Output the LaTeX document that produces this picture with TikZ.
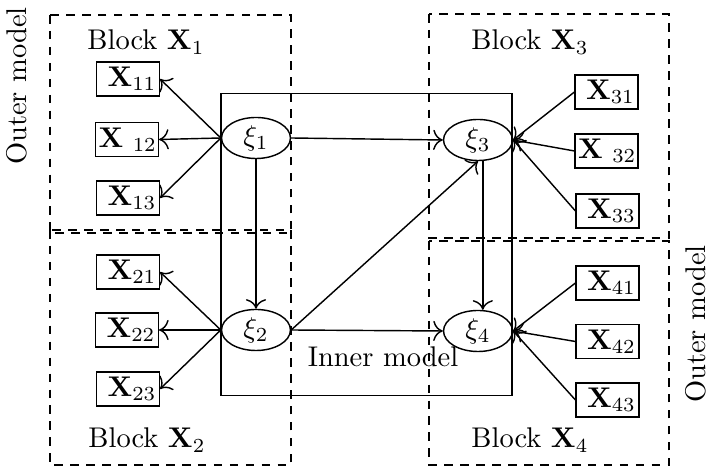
\documentclass[tikz,border=0pt]{standalone}
\usetikzlibrary{shapes.geometric,arrows.meta}
\begin{document}
\begin{tikzpicture}[x=0.351pt,y=-0.351pt,line width=0.5pt,
  lat/.style={draw,ellipse,minimum width=24.2pt,minimum height=14.4pt,inner sep=0pt},
  ind/.style={draw,rectangle,text width=20pt,align=right,minimum height=11.9pt,inner sep=1pt},
  blk/.style={draw,dash pattern=on 3pt off 2.6pt},
  arr/.style={-{To[scale=1.25]}}]
\useasboundingbox (0,0) rectangle (708,466);
% blocks
\draw[blk] (50,15) rectangle (291,233);
\draw[blk] (50,230) rectangle (291,465);
\draw[blk] (429,14) rectangle (669,238);
\draw[blk] (429,241) rectangle (669,465);
% inner model box
\node[draw,minimum width=102.1pt,minimum height=106pt,inner sep=0pt] (inner) at (366.5,244.5) {};
\node (innerlbl) at (383,357) {Inner model};
% latent variables
\node[lat] (xi1) at (256,138) {$\xi_1$};
\node[lat] (xi2) at (256,330) {$\xi_2$};
\node[lat] (xi3) at (478,140) {$\xi_3$};
\node[lat] (xi4) at (478,331) {$\xi_4$};
% indicators
\node[ind] (x11) at (128,79) {$\mathbf{X}_{11}$};
\node[ind] (x12) at (127,139.5) {$\mathbf{X}\ {}_{12}$};
\node[ind] (x13) at (128,198) {$\mathbf{X}_{13}$};
\node[ind] (x21) at (128,272) {$\mathbf{X}_{21}$};
\node[ind] (x22) at (127,330) {$\mathbf{X}_{22}$};
\node[ind] (x23) at (128,389) {$\mathbf{X}_{23}$};
\node[ind] (x31) at (606.5,92) {$\mathbf{X}_{31}$};
\node[ind] (x32) at (606.5,151) {$\mathbf{X}\ {}_{32}$};
\node[ind] (x33) at (607.5,211) {$\mathbf{X}_{33}$};
\node[ind] (x41) at (607.5,283) {$\mathbf{X}_{41}$};
\node[ind] (x42) at (607.5,341.5) {$\mathbf{X}_{42}$};
\node[ind] (x43) at (607.5,400) {$\mathbf{X}_{43}$};
% labels
\node (b1) at (146,42) {Block $\mathbf{X}_1$};
\node (b2) at (147,440) {Block $\mathbf{X}_2$};
\node (b3) at (530,42) {Block $\mathbf{X}_3$};
\node (b4) at (530,440) {Block $\mathbf{X}_4$};
\node[rotate=90,inner sep=1pt] (om1) at (17,86) {Outer model};
\node[rotate=90,inner sep=1pt] (om2) at (696,324) {Outer model};
% outer arrows
\foreach \i in {11,12,13} \draw[arr] (xi1.west) -- (x\i.east);
\foreach \i in {21,22,23} \draw[arr] (xi2.west) -- (x\i.east);
\foreach \i in {31,32,33} \draw[arr] (x\i.west) -- (xi3.east);
\foreach \i in {41,42,43} \draw[arr] (x\i.west) -- (xi4.east);
% inner arrows
\draw[arr] (xi1.east) -- (xi3.west);
\draw[arr] (xi1.south) -- (xi2.north);
\draw[arr] (xi2.east) -- (xi3.south);
\draw[arr] (xi2.east) -- (xi4.west);
\draw[arr] ([xshift=1.7pt]xi3.south) -- ([xshift=1.7pt]xi4.north);
\end{tikzpicture}
\end{document}
